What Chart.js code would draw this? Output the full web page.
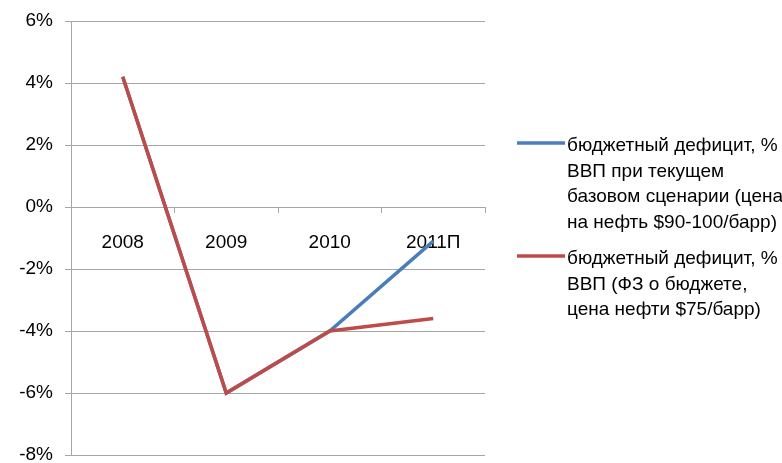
<!DOCTYPE html>
<html>
<head>
<meta charset="utf-8">
<script src="https://cdn.jsdelivr.net/npm/chart.js@4"></script>
<style>
  html, body { margin: 0; padding: 0; background: #fff; }
  canvas { display: block; }
</style>
</head>
<body>
<canvas id="deficitChart" width="782" height="463"></canvas>
<script>
const years = ['2008', '2009', '2010', '2011П'];
const baseScenario = [4.2, -6.0, -4.0, -1.1];
const budgetLaw = [4.2, -6.0, -4.0, -3.6];
const yTicks = [-8, -6, -4, -2, 0, 2, 4, 6];
const legendBase = ['бюджетный дефицит, %', 'ВВП при текущем', 'базовом сценарии (цена', 'на нефть $90-100/барр)'];
const legendLaw = ['бюджетный дефицит, %', 'ВВП (ФЗ о бюджете,', 'цена нефти $75/барр)'];

const FONT = 'Liberation Sans, Arial, sans-serif';

// legend drawn by hand so the labels can wrap like the original
const sideLegend = {
    id: 'sideLegend',
    afterDraw(chart) {
        const ctx = chart.ctx;
        const blocks = [
            { y: 146, ds: chart.data.datasets[0] },
            { y: 259, ds: chart.data.datasets[1] }
        ];
        ctx.save();
        ctx.font = '19px ' + FONT;
        ctx.textBaseline = 'middle';
        ctx.fillStyle = '#000';
        blocks.forEach(b => {
            ctx.strokeStyle = b.ds.borderColor;
            ctx.lineWidth = 3.5;
            ctx.beginPath();
            ctx.moveTo(517, b.y - 3);
            ctx.lineTo(565, b.y - 3);
            ctx.stroke();
            b.ds.legendLines.forEach((t, i) => {
                ctx.fillText(t, 567, b.y + i * 25.5);
            });
        });
        ctx.restore();
    }
};

new Chart(document.getElementById('deficitChart').getContext('2d'), {
    type: 'line',
    data: {
        labels: years,
        datasets: [
            {
                label: legendBase.join(' '),
                legendLines: legendBase,
                data: baseScenario,
                borderColor: '#4a7ebb',
                borderWidth: 3.5,
                pointRadius: 0,
                tension: 0,
                order: 1
            },
            {
                label: legendLaw.join(' '),
                legendLines: legendLaw,
                data: budgetLaw,
                borderColor: '#be4b48',
                borderWidth: 3.5,
                pointRadius: 0,
                tension: 0,
                order: 0
            }
        ]
    },
    options: {
        responsive: false,
        animation: false,
        layout: { padding: { top: 21, right: 297, bottom: 8, left: 0 } },
        plugins: {
            legend: { display: false },
            tooltip: { enabled: false }
        },
        scales: {
            x: {
                position: { y: 0 },
                offset: true,
                grid: {
                    offset: true,
                    drawOnChartArea: false,
                    drawTicks: true,
                    tickLength: 5,
                    color: '#a6a6a6'
                },
                border: { color: '#a6a6a6', width: 1 },
                ticks: {
                    padding: 19,
                    color: '#000',
                    font: { family: FONT, size: 19 },
                    maxRotation: 0
                }
            },
            y: {
                min: -8,
                max: 6,
                afterBuildTicks(scale) {
                    scale.ticks = yTicks.map(v => ({ value: v }));
                },
                afterFit(scale) {
                    scale.width = 71;
                    scale.paddingTop = 0;
                    scale.paddingBottom = 0;
                },
                grid: {
                    color: '#a6a6a6',
                    tickLength: 6
                },
                border: { color: '#a6a6a6', width: 1 },
                ticks: {
                    padding: 12,
                    color: '#000',
                    font: { family: FONT, size: 19 },
                    callback: v => v + '%'
                }
            }
        }
    },
    plugins: [sideLegend]
});
</script>
</body>
</html>
